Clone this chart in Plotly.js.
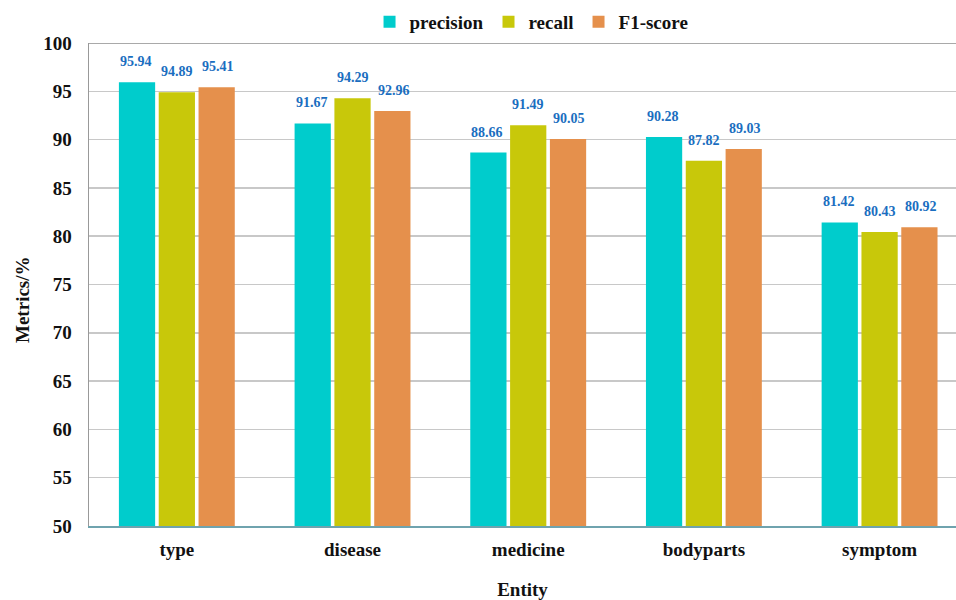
<!DOCTYPE html>
<html>
<head>
<meta charset="utf-8">
<script src="https://cdn.plot.ly/plotly-3.0.1.min.js"></script>
<style>html,body{margin:0;padding:0;background:#fff;}#chart{width:956px;height:600px;}</style>
</head>
<body>
<div id="chart"></div>
<script>
const categories = ["type", "disease", "medicine", "bodyparts", "symptom"];
const seriesNames = ["precision", "recall", "F1-score"];
const precision = [95.94, 91.67, 88.66, 90.28, 81.42];
const recall = [94.89, 94.29, 91.49, 87.82, 80.43];
const f1score = [95.41, 92.96, 90.05, 89.03, 80.92];
const yTicks = [50, 55, 60, 65, 70, 75, 80, 85, 90, 95, 100];

const seriesValues = [precision, recall, f1score];
const colors = ["#00CCCC", "#C8C80A", "#E5904C"];
const FONT = "Liberation Serif, Times New Roman, serif";

const traces = seriesValues.map((vals, i) => ({
  type: "bar",
  name: seriesNames[i],
  x: categories,
  y: vals,
  marker: {color: colors[i]},
  hoverinfo: "skip"
}));

const offsets = [-41, 0, 41];
const annotations = [];
seriesValues.forEach((vals, i) => {
  vals.forEach((v, j) => {
    annotations.push({
      x: categories[j], y: v, xref: "x", yref: "y",
      text: v.toFixed(2), showarrow: false,
      xanchor: "center", yanchor: "bottom",
      xshift: offsets[i], yshift: 11,
      font: {family: FONT, size: 14, color: "#1A6EC0", weight: "bold"}
    });
  });
});
annotations.push({
  text: "Metrics/%", textangle: -90, showarrow: false,
  xref: "paper", yref: "paper", x: (22 - 89) / 867, y: (526 - 300) / 483,
  xanchor: "center", yanchor: "middle",
  font: {family: FONT, size: 19, color: "#111111", weight: "bold"}
});

const layout = {
  width: 956, height: 600,
  margin: {l: 89, r: 0, t: 43, b: 74},
  paper_bgcolor: "#ffffff", plot_bgcolor: "#ffffff",
  font: {family: FONT, size: 18, color: "#111111", weight: "bold"},
  barmode: "group", bargap: 0.32, bargroupgap: 0.09,
  showlegend: true,
  legend: {
    orientation: "h", xref: "container", yref: "container",
    x: 0.556, xanchor: "center", y: 0.995, yanchor: "top",
    font: {family: FONT, size: 19, color: "#111111", weight: "bold"},
    itemwidth: 30, traceorder: "normal"
  },
  xaxis: {
    range: [-0.5, 4.435],
    showgrid: false, zeroline: false,
    showline: true, linecolor: "#6FA3AE", linewidth: 2,
    ticks: "", ticklabelstandoff: 5,
    tickfont: {family: FONT, size: 19, color: "#111111", weight: "bold"},
    title: {text: "Entity", standoff: 30, font: {family: FONT, size: 19, color: "#111111", weight: "bold"}}
  },
  yaxis: {
    range: [50, 100], tickvals: yTicks, ticktext: yTicks.map(String),
    showgrid: true, gridcolor: "#C8C8C8", gridwidth: 1.5,
    zeroline: false, showline: true, linecolor: "#999999", linewidth: 1.5,
    ticks: "", ticklabelstandoff: 12,
    tickfont: {family: FONT, size: 19, color: "#111111", weight: "bold"}
  },
  shapes: [{
    type: "line", xref: "paper", yref: "y", x0: 0, x1: 1, y0: 100, y1: 100,
    line: {color: "#8C8C8C", width: 1.5}
  }],
  annotations: annotations
};

Plotly.newPlot("chart", traces, layout, {displayModeBar: false, staticPlot: true});
</script>
</body>
</html>
